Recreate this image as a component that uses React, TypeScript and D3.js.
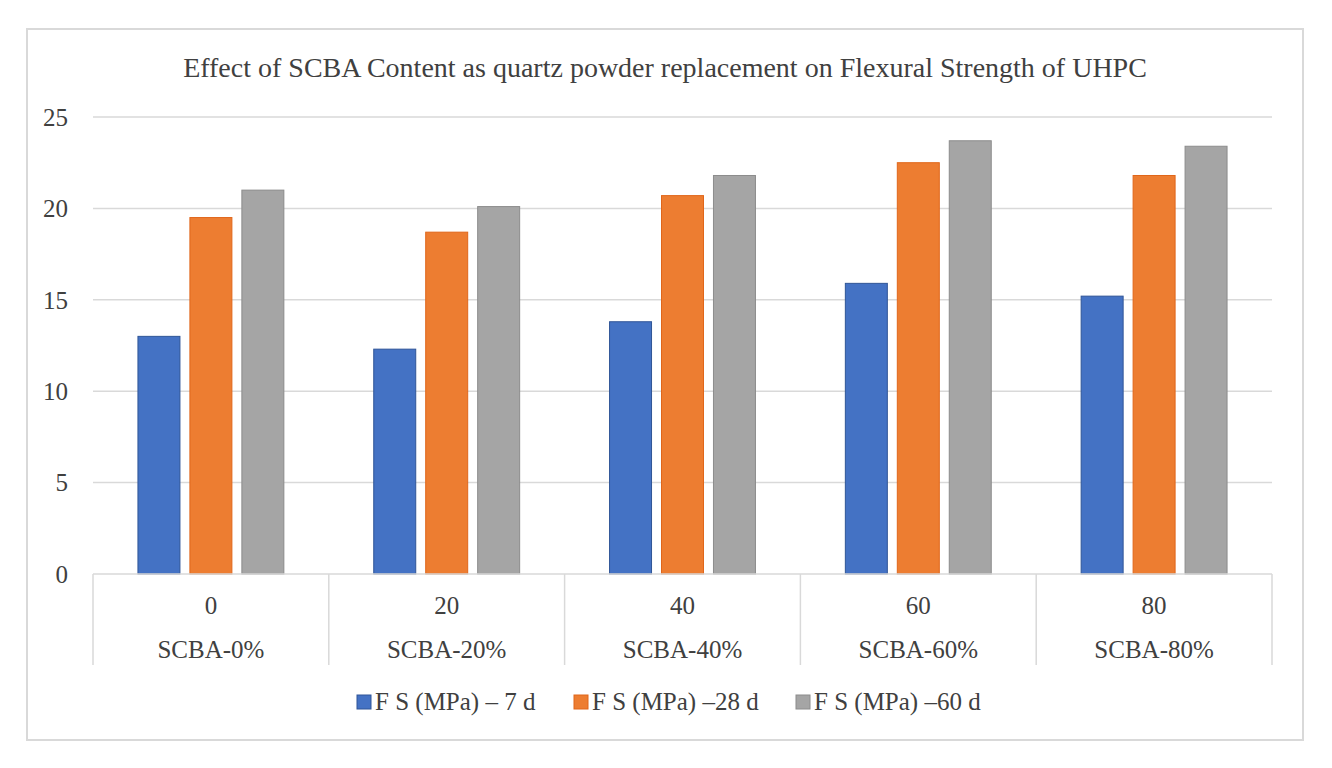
import { useEffect, useRef } from "react";
import * as d3 from "d3";

const W = 1332;
const H = 768;

/* data */
const categories = ["0", "20", "40", "60", "80"];
const groupLabels = ["SCBA-0%", "SCBA-20%", "SCBA-40%", "SCBA-60%", "SCBA-80%"];
const seriesNames = ["F S (MPa) – 7 d", "F S (MPa) –28 d", "F S (MPa) –60 d"];
const fs7 = [13.0, 12.3, 13.8, 15.9, 15.2];
const fs28 = [19.5, 18.7, 20.7, 22.5, 21.8];
const fs60 = [21.0, 20.1, 21.8, 23.7, 23.4];
const yTicks = [0, 5, 10, 15, 20, 25];

const FILLS = ["#4472C4", "#ED7D31", "#A5A5A5"];
const STROKES = ["#2F5597", "#E0661A", "#8C8C8C"];
const GRID = "#D9D9D9";
const TEXT = "#404040";
const FONT = "'Liberation Serif', 'Times New Roman', serif";

export default function App() {
  const svgRef = useRef<SVGSVGElement>(null);

  useEffect(() => {
    if (!svgRef.current) return;
    const svg = d3.select(svgRef.current);
    svg.selectAll("*").remove();

    const plot = { left: 93, right: 1272, top: 117, bottom: 574 };
    const series = [fs7, fs28, fs60];

    // outer frame
    svg.append("rect")
      .attr("x", 27).attr("y", 29)
      .attr("width", 1276).attr("height", 711)
      .attr("fill", "#fff")
      .attr("stroke", GRID).attr("stroke-width", 2);

    // title
    svg.append("text")
      .attr("x", 665).attr("y", 77)
      .attr("text-anchor", "middle")
      .attr("font-family", FONT).attr("font-size", 28)
      .attr("fill", TEXT)
      .text("Effect of SCBA Content as quartz powder replacement on Flexural Strength of UHPC");

    const y = d3.scaleLinear().domain([0, 25]).range([plot.bottom, plot.top]);
    const x0 = d3.scaleBand<string>().domain(categories).range([plot.left, plot.right]).padding(0);
    const x1 = d3.scaleBand<number>()
      .domain([0, 1, 2])
      .range([0, x0.bandwidth()])
      .paddingInner(0.192)
      .paddingOuter(0.865);

    // gridlines
    svg.append("g").selectAll("line")
      .data(yTicks.filter((t) => t > 0))
      .join("line")
      .attr("x1", plot.left).attr("x2", plot.right)
      .attr("y1", (d) => y(d)).attr("y2", (d) => y(d))
      .attr("stroke", GRID).attr("stroke-width", 1.5);

    // y tick labels
    svg.append("g").selectAll("text")
      .data(yTicks)
      .join("text")
      .attr("x", 68)
      .attr("y", (d) => y(d))
      .attr("dy", "0.35em")
      .attr("text-anchor", "end")
      .attr("font-family", FONT).attr("font-size", 25)
      .attr("fill", TEXT)
      .text((d) => d);

    // bars
    series.forEach((vals, si) => {
      svg.append("g").selectAll("rect")
        .data(vals)
        .join("rect")
        .attr("x", (_, i) => (x0(categories[i]) ?? 0) + (x1(si) ?? 0))
        .attr("y", (d) => y(d))
        .attr("width", x1.bandwidth())
        .attr("height", (d) => y(0) - y(d))
        .attr("fill", FILLS[si])
        .attr("stroke", STROKES[si])
        .attr("stroke-width", 1);
    });

    // category axis (multi-level)
    svg.append("line")
      .attr("x1", plot.left).attr("x2", plot.right)
      .attr("y1", plot.bottom).attr("y2", plot.bottom)
      .attr("stroke", GRID).attr("stroke-width", 1.5);

    const dividers = [...categories.map((c) => x0(c) ?? 0), plot.right];
    svg.append("g").selectAll("line")
      .data(dividers)
      .join("line")
      .attr("x1", (d) => d).attr("x2", (d) => d)
      .attr("y1", plot.bottom).attr("y2", 665)
      .attr("stroke", GRID).attr("stroke-width", 1.5);

    svg.append("g").selectAll("text")
      .data(categories)
      .join("text")
      .attr("x", (d) => (x0(d) ?? 0) + x0.bandwidth() / 2)
      .attr("y", 614)
      .attr("text-anchor", "middle")
      .attr("font-family", FONT).attr("font-size", 25)
      .attr("fill", TEXT)
      .text((d) => d);

    svg.append("g").selectAll("text")
      .data(groupLabels)
      .join("text")
      .attr("x", (_, i) => (x0(categories[i]) ?? 0) + x0.bandwidth() / 2)
      .attr("y", 658)
      .attr("text-anchor", "middle")
      .attr("font-family", FONT).attr("font-size", 25)
      .attr("fill", TEXT)
      .text((d) => d);

    // legend
    const legendX = [357, 574, 796];
    const lg = svg.append("g").selectAll("g")
      .data(seriesNames)
      .join("g")
      .attr("transform", (_, i) => `translate(${legendX[i]},695)`);
    lg.append("rect")
      .attr("width", 14).attr("height", 14)
      .attr("fill", (_, i) => FILLS[i])
      .attr("stroke", (_, i) => STROKES[i])
      .attr("stroke-width", 1);
    lg.append("text")
      .attr("x", 18).attr("y", 15)
      .attr("font-family", FONT).attr("font-size", 25)
      .attr("fill", TEXT)
      .text((d) => d);
  }, []);

  return (
    <svg
      ref={svgRef}
      width={W}
      height={H}
      style={{ position: "absolute", left: 0, top: 0, background: "#fff" }}
    />
  );
}
